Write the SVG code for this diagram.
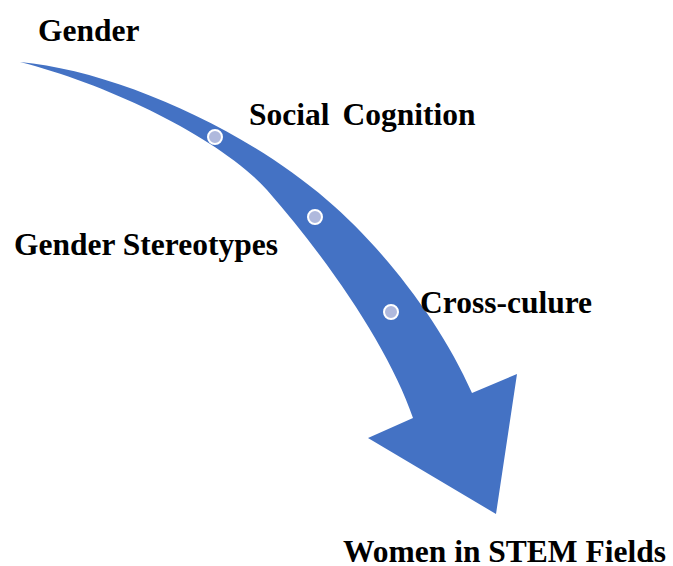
<svg xmlns="http://www.w3.org/2000/svg" width="673" height="566" viewBox="0 0 673 566">
  <style>
    .label { font-family: "Liberation Serif", "Times New Roman", serif; font-weight: bold; font-size: 31.5px; fill: #000; }
    .dot { fill: #AFB9DD; stroke: #FFFFFF; stroke-width: 2; }
  </style>
  <rect width="673" height="566" fill="#FFFFFF"/>

  <!-- curved arrow carrying the stages -->
  <g id="connectors">
    <path id="arrow" fill="#4472C4"
      d="M20,62 C110,70 240,125 327,200 C380,245 440,320 472,393 L517,374 L496,514 L368,438 L413,418 C390,350 330,262 267,190 C220,138 110,85 20,62 Z"/>
  </g>

  <g id="stage-dots">
    <circle class="dot" cx="215" cy="137" r="7"/>
    <circle class="dot" cx="315" cy="217" r="7"/>
    <circle class="dot" cx="391" cy="312" r="7"/>
  </g>

  <g id="node-gender"><text class="label" x="38" y="41">Gender</text></g>
  <g id="node-social-cognition"><text class="label" x="249" y="125" word-spacing="5">Social Cognition</text></g>
  <g id="node-gender-stereotypes"><text class="label" x="14" y="255">Gender Stereotypes</text></g>
  <g id="node-cross-culture"><text class="label" x="420" y="313">Cross-culure</text></g>
  <g id="node-women-stem"><text class="label" x="343" y="562">Women in STEM Fields</text></g>
</svg>
